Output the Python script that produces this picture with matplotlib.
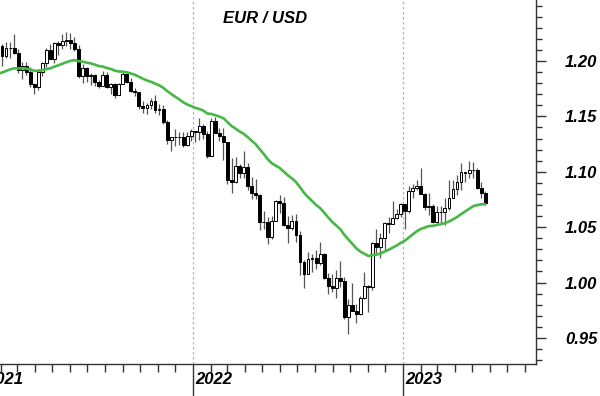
import numpy as np
import pandas as pd
import matplotlib
matplotlib.use("Agg")
import matplotlib.pyplot as plt
import matplotlib.dates as mdates

# ---------------------------------------------------------------------------
# Data: weekly EUR/USD bars (week ending Friday)
# ---------------------------------------------------------------------------

# closes Jul 2020 .. Jan 22 2021, only used to warm up the moving average
warmup_closes = [
    1.1247, 1.1300, 1.1427, 1.1656, 1.1778, 1.1786, 1.1842, 1.1795, 1.1904,
    1.1838, 1.1846, 1.1839, 1.1631, 1.1715, 1.1825, 1.1717, 1.1860, 1.1647,
    1.1875, 1.1833, 1.1857, 1.1963, 1.2122, 1.2113, 1.2255, 1.2187, 1.2216,
    1.2220, 1.2082, 1.2170,
]
first_week = "2021-01-25"

highs = [
    # 2021
    1.2190, 1.2150, 1.2170, 1.2170, 1.2243, 1.2113, 1.1990, 1.1990, 1.1945,
    1.1800, 1.1928, 1.1995, 1.2117, 1.2150, 1.2172, 1.2181, 1.2245, 1.2266,
    1.2255, 1.2218, 1.2145, 1.1975, 1.1950, 1.1895, 1.1880, 1.1833, 1.1909,
    1.1900, 1.1805, 1.1805, 1.1800, 1.1909, 1.1884, 1.1850, 1.1760, 1.1720,
    1.1640, 1.1625, 1.1670, 1.1692, 1.1616, 1.1607, 1.1464, 1.1290, 1.1383,
    1.1355, 1.1360, 1.1361, 1.1386,
    # 2022
    1.1370, 1.1483, 1.1434, 1.1370, 1.1483, 1.1495, 1.1395, 1.1395, 1.1270,
    1.1121, 1.1137, 1.1070, 1.1185, 1.1076, 1.0954, 1.0936, 1.0795, 1.0642,
    1.0593, 1.0600, 1.0748, 1.0787, 1.0774, 1.0601, 1.0606, 1.0615, 1.0463,
    1.0200, 1.0279, 1.0259, 1.0294, 1.0369, 1.0270, 1.0090, 1.0079, 1.0113,
    1.0198, 1.0050, 0.9853, 0.9999, 0.9810, 0.9875, 1.0093, 0.9977, 1.0363,
    1.0480, 1.0449, 1.0545, 1.0595, 1.0737, 1.0660, 1.0714,
    # 2023
    1.0713, 1.0875, 1.0888, 1.0929, 1.1033, 1.0805, 1.0805, 1.0705, 1.0692,
    1.0695, 1.0760, 1.0930, 1.0925, 1.0975, 1.1075, 1.1000, 1.1095, 1.1092,
    1.1030, 1.0905, 1.0830,
]
lows = [
    # 2021
    1.2055, 1.1952, 1.2030, 1.2023, 1.2065, 1.1893, 1.1836, 1.1874, 1.1762,
    1.1704, 1.1737, 1.1867, 1.1948, 1.2020, 1.1986, 1.2052, 1.2113, 1.2133,
    1.2105, 1.2094, 1.1847, 1.1803, 1.1807, 1.1782, 1.1772, 1.1752, 1.1770,
    1.1753, 1.1705, 1.1665, 1.1695, 1.1793, 1.1800, 1.1724, 1.1684, 1.1563,
    1.1529, 1.1525, 1.1570, 1.1535, 1.1513, 1.1432, 1.1250, 1.1186, 1.1235,
    1.1240, 1.1222, 1.1235, 1.1280,
    # 2022
    1.1272, 1.1285, 1.1300, 1.1121, 1.1150, 1.1353, 1.1280, 1.1106, 1.0890,
    1.0806, 1.0900, 1.0945, 1.0945, 1.0837, 1.0757, 1.0758, 1.0472, 1.0480,
    1.0350, 1.0390, 1.0560, 1.0627, 1.0510, 1.0359, 1.0470, 1.0366, 1.0072,
    0.9952, 1.0080, 1.0097, 1.0123, 1.0160, 1.0030, 0.9900, 0.9910, 0.9864,
    0.9956, 0.9670, 0.9536, 0.9740, 0.9632, 0.9705, 0.9850, 0.9730, 0.9935,
    1.0270, 1.0224, 1.0290, 1.0443, 1.0525, 1.0575, 1.0590,
    # 2023
    1.0483, 1.0630, 1.0767, 1.0835, 1.0795, 1.0655, 1.0613, 1.0535, 1.0533,
    1.0525, 1.0515, 1.0655, 1.0787, 1.0790, 1.0832, 1.0910, 1.0940, 1.0940,
    1.0845, 1.0760, 1.0700,
]
closes = [
    # 2021
    1.2136, 1.2045, 1.2119, 1.2120, 1.2075, 1.1915, 1.1952, 1.1904, 1.1795,
    1.1762, 1.1899, 1.1983, 1.2097, 1.2020, 1.2164, 1.2146, 1.2180, 1.2193,
    1.2167, 1.2107, 1.1863, 1.1937, 1.1863, 1.1875, 1.1808, 1.1771, 1.1870,
    1.1762, 1.1795, 1.1697, 1.1793, 1.1880, 1.1814, 1.1726, 1.1718, 1.1596,
    1.1573, 1.1600, 1.1643, 1.1558, 1.1567, 1.1445, 1.1289, 1.1318, 1.1315,
    1.1316, 1.1238, 1.1321, 1.1370,
    # 2022
    1.1360, 1.1413, 1.1343, 1.1145, 1.1457, 1.1350, 1.1320, 1.1270, 1.0930,
    1.0912, 1.1050, 1.0985, 1.1046, 1.0876, 1.0810, 1.0790, 1.0545, 1.0550,
    1.0410, 1.0560, 1.0734, 1.0719, 1.0518, 1.0496, 1.0555, 1.0425, 1.0184,
    1.0080, 1.0212, 1.0220, 1.0180, 1.0260, 1.0040, 0.9965, 0.9955, 1.0040,
    1.0015, 0.9690, 0.9800, 0.9740, 0.9720, 0.9860, 0.9965, 0.9960, 1.0355,
    1.0325, 1.0400, 1.0535, 1.0530, 1.0585, 1.0615, 1.0705,
    # 2023
    1.0645, 1.0830, 1.0855, 1.0870, 1.0795, 1.0680, 1.0695, 1.0545, 1.0635,
    1.0640, 1.0670, 1.0760, 1.0840, 1.0905, 1.0995, 1.0990, 1.1020, 1.1020,
    1.0850, 1.0805, 1.0720,
]
ema_span = 30

title = "EUR / USD"
ytick_values = [0.95, 1.00, 1.05, 1.10, 1.15, 1.20]
year_labels = ["2021", "2022", "2023"]

# ---------------------------------------------------------------------------
# Derived series
# ---------------------------------------------------------------------------

c = np.array(closes)
h = np.array(highs)
l = np.array(lows)
o = np.concatenate([[warmup_closes[-1]], c[:-1]])

weeks = pd.date_range(first_week, periods=len(c), freq="W-MON")
warm_weeks = pd.date_range(end=weeks[0] - pd.Timedelta(days=7),
                           periods=len(warmup_closes), freq="W-MON")
x = mdates.date2num(weeks + pd.Timedelta(days=2))
x_all = mdates.date2num(warm_weeks.append(weeks) + pd.Timedelta(days=2))
ema = pd.Series(warmup_closes + closes).ewm(span=ema_span, adjust=False).mean()

# ---------------------------------------------------------------------------
# Plot
# ---------------------------------------------------------------------------

plt.rcParams["font.family"] = ["Liberation Sans", "DejaVu Sans"]
fig = plt.figure(figsize=(6, 3.96), dpi=100)
ax = fig.add_axes([0, 0.081, 0.893, 0.919])

x0 = mdates.date2num(pd.Timestamp("2021-01-30 12:00"))
x1 = mdates.date2num(pd.Timestamp("2023-08-20"))
ax.set_xlim(x0, x1)
ax.set_ylim(0.9265, 1.2551)

# year separators
for yr in year_labels[1:]:
    ax.axvline(mdates.date2num(pd.Timestamp(f"{yr}-01-01")), color="#b5b5b5",
               lw=0.9, ls=(0, (2, 2)), zorder=0)

up = c >= o
ax.vlines(x, l, h, color="#555555", lw=0.9, zorder=2)
ax.bar(x, np.abs(c - o), bottom=np.minimum(o, c), width=5.0,
       color=np.where(up, "white", "black"), edgecolor="black",
       linewidth=0.7, zorder=3)

ax.plot(x_all, ema, color="#45b845", lw=1.9, zorder=4,
        solid_capstyle="round")

ax.text(0.494, 0.948, title, transform=ax.transAxes, ha="center",
        va="center", fontsize=12, fontweight="bold", fontstyle="italic")

# axes styling
for side in ("left", "top"):
    ax.spines[side].set_visible(False)
for side in ("right", "bottom"):
    ax.spines[side].set_linewidth(1.0)
    ax.spines[side].set_color("#333333")

ax.yaxis.tick_right()
ax.set_yticks(ytick_values)
ax.set_yticklabels([f"{v:.2f}" for v in ytick_values], fontsize=12,
                   fontweight="bold", fontstyle="italic")
ax.yaxis.set_minor_locator(plt.MultipleLocator(0.01))
ax.tick_params(axis="y", which="major", length=7, width=1, pad=14,
               color="#333333")
ax.tick_params(axis="y", which="minor", length=4, width=1, color="#333333")

ax.xaxis.set_major_locator(mdates.YearLocator())
ax.xaxis.set_minor_locator(mdates.MonthLocator())
ax.xaxis.set_major_formatter(plt.NullFormatter())
ax.tick_params(axis="x", which="major", length=24, width=1, color="#333333")
ax.tick_params(axis="x", which="minor", length=6, width=1, color="#333333")

for yr in year_labels:
    ax.annotate(yr, xy=(mdates.date2num(pd.Timestamp(f"{yr}-01-01")), 0),
                xycoords=("data", "axes fraction"), xytext=(2, -6),
                textcoords="offset points", ha="left", va="top",
                fontsize=12, fontweight="bold", fontstyle="italic",
                annotation_clip=False)

fig.savefig("out.png", dpi=100)
